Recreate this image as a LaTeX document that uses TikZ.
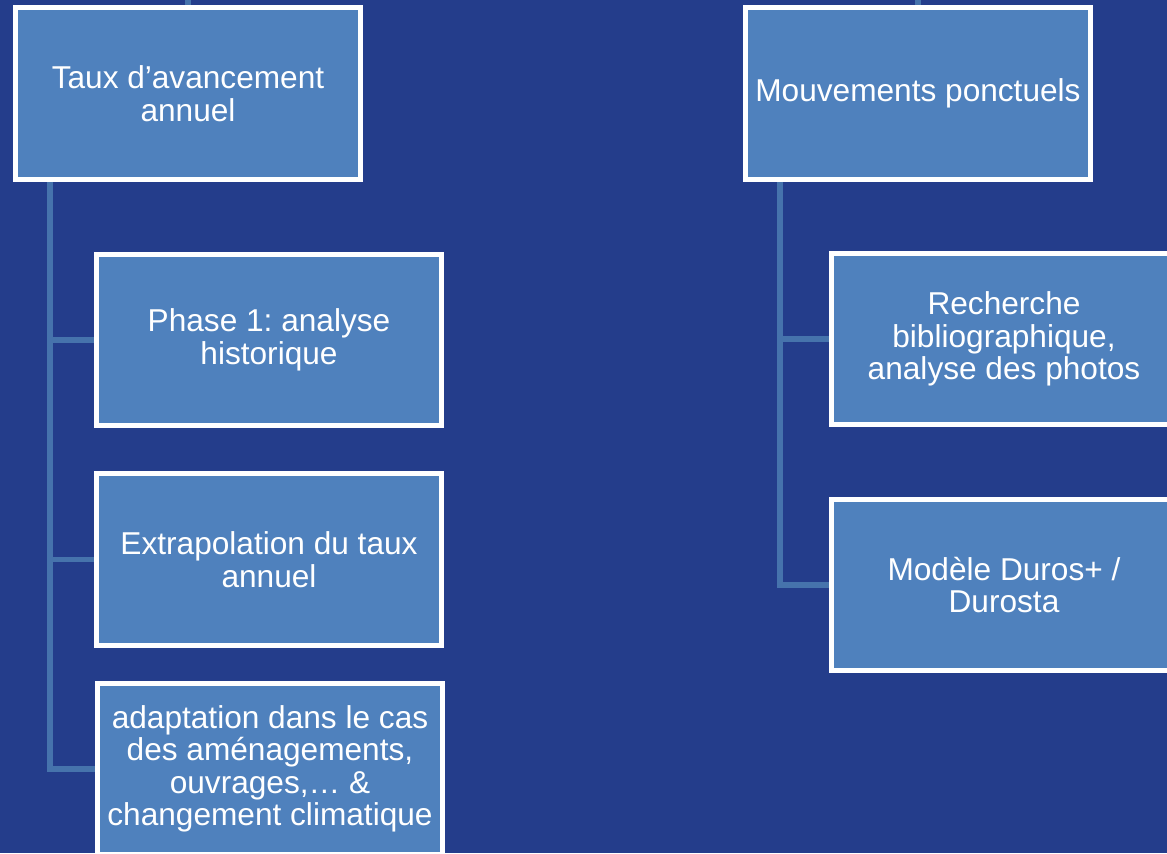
\documentclass[tikz,border=0pt]{standalone}
\usepackage{fontspec}
\setmainfont{Liberation Sans}
\usetikzlibrary{backgrounds}

\definecolor{slidebg}{RGB}{36,61,139}
\definecolor{boxfill}{RGB}{79,129,189}
\definecolor{linkcol}{RGB}{70,115,172}

\tikzset{
  item/.style={draw=white, line width=0.1cm, fill=boxfill, text=white,
    align=center, minimum width=6.9cm, minimum height=3.44cm, inner sep=0pt,
    font=\fontsize{18}{18.5}\selectfont\frenchspacing},
  link/.style={draw=linkcol, line width=0.11cm},
}

\begin{document}
\begin{tikzpicture}[x=0.02cm, y=-0.02cm]
	\useasboundingbox (0,0) rectangle (1167,853);
	
	% left column
	\node[item] (taux) at (188,93.5) {Taux d’avancement\\annuel};
	\node[item] (phase) at (269,340) {Phase 1: analyse\\historique};
	\node[item] (extra) at (269,559.5) {Extrapolation du taux\\annuel};
	\node[item] (adapt) at (270,769) {adaptation dans le cas\\des aménagements,\\ouvrages,… \&\\changement climatique};
	
	% right column
	\node[item] (mouv) at (918,93.5) {Mouvements ponctuels};
	\node[item] (rech) at (1004,339) {Recherche\\bibliographique,\\analyse des photos};
	\node[item] (model) at (1004,585) {Modèle Duros+ /\\Durosta};
	
	\begin{scope}[on background layer]
		\fill[slidebg] (0,0) rectangle (1167,853);
		\coordinate (ltop) at (188,0);
		\coordinate (rtop) at (918,0);
		\coordinate (lroot) at ([xshift=-2.76cm]taux.south);
		\coordinate (rroot) at ([xshift=-2.76cm]mouv.south);
		
		\draw[link] (ltop) -- (taux);
		\draw[link] (lroot) |- (adapt.west);
		\draw[link] (lroot |- phase.west) -- (phase.west);
		\draw[link] (lroot |- extra.west) -- (extra.west);
		
		\draw[link] (rtop) -- (mouv);
		\draw[link] (rroot) |- (model.west);
		\draw[link] (rroot |- rech.west) -- (rech.west);
	\end{scope}
\end{tikzpicture}
\end{document}
